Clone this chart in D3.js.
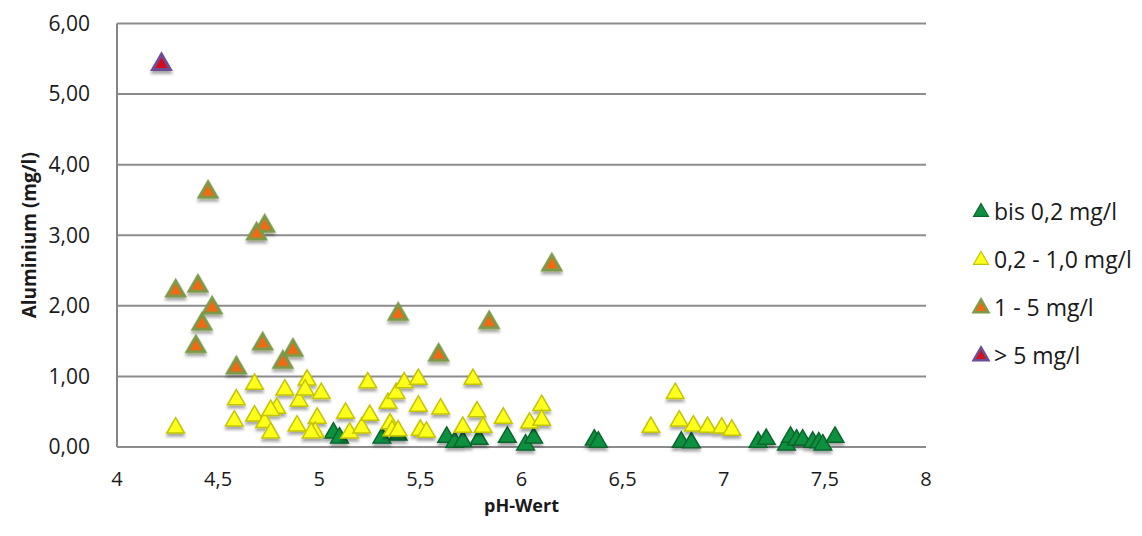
<!DOCTYPE html>
<html>
<head>
<meta charset="utf-8">
<script src="https://cdn.jsdelivr.net/npm/d3@7"></script>
<style>
  body { margin: 0; background: #fff; }
  svg { font-family: "Open Sans", "Liberation Sans", sans-serif; }
</style>
</head>
<body>
<div id="chart"></div>
<script>
// series: [pH, Aluminium mg/l]
var seriesNames = ["bis 0,2 mg/l", "0,2 - 1,0 mg/l", "1 - 5 mg/l", "> 5 mg/l"];

var greenPts = [
  [5.07, 0.20], [5.10, 0.13], [5.31, 0.13], [5.39, 0.17], [5.63, 0.14],
  [5.67, 0.07], [5.71, 0.08], [5.79, 0.11], [5.93, 0.14], [6.02, 0.03],
  [6.06, 0.13], [6.36, 0.10], [6.38, 0.07], [6.79, 0.07], [6.84, 0.06],
  [7.17, 0.07], [7.21, 0.11], [7.31, 0.03], [7.33, 0.14], [7.36, 0.10],
  [7.39, 0.10], [7.44, 0.07], [7.47, 0.06], [7.49, 0.03], [7.55, 0.14]
];

var yellowPts = [
  [4.29, 0.27], [4.59, 0.67], [4.58, 0.37], [4.68, 0.89], [4.68, 0.44],
  [4.73, 0.35], [4.76, 0.20], [4.79, 0.55], [4.76, 0.52], [4.83, 0.81],
  [4.90, 0.65], [4.89, 0.30], [4.94, 0.95], [4.93, 0.81], [5.01, 0.76],
  [4.99, 0.41], [4.98, 0.21], [4.96, 0.20], [5.13, 0.48], [5.15, 0.20],
  [5.21, 0.27], [5.25, 0.45], [5.24, 0.91], [5.34, 0.62], [5.35, 0.33],
  [5.38, 0.76], [5.42, 0.91], [5.49, 0.96], [5.76, 0.96], [5.36, 0.23],
  [5.39, 0.23], [5.49, 0.58], [5.60, 0.54], [5.50, 0.24], [5.53, 0.21],
  [5.71, 0.28], [5.78, 0.50], [5.81, 0.28], [5.91, 0.41], [6.04, 0.34],
  [6.10, 0.59], [6.10, 0.38], [6.64, 0.28], [6.76, 0.76], [6.78, 0.37],
  [6.85, 0.30], [6.92, 0.28], [6.99, 0.27], [7.04, 0.24]
];

var orangePts = [
  [4.45, 3.61], [4.73, 3.13], [4.69, 3.02], [4.29, 2.21], [4.40, 2.28],
  [4.47, 1.97], [4.42, 1.74], [4.39, 1.42], [4.72, 1.46], [4.82, 1.20],
  [4.87, 1.37], [4.59, 1.12], [6.15, 2.58], [5.39, 1.88], [5.84, 1.76],
  [5.59, 1.30]
];

var purplePts = [
  [4.22, 5.42]
];

var xTicks = [4, 4.5, 5, 5.5, 6, 6.5, 7, 7.5, 8];
var yTicks = [0, 1, 2, 3, 4, 5, 6];

var styles = [
  { fill: "#0d9140", stroke: "#07652b", sw: 1.5 },
  { fill: "#ffff1e", stroke: "#c4c400", sw: 1.5 },
  { fill: "#f06a12", stroke: "#7c9a48", sw: 3 },
  { fill: "#d3111c", stroke: "#6c4e96", sw: 3 }
];
var allSeries = [greenPts, yellowPts, orangePts, purplePts];

var W = 1142, H = 536;
var margin = { top: 23.5, right: 216, bottom: 89, left: 117 };
var width = W - margin.left - margin.right,
    height = H - margin.top - margin.bottom;

var svg = d3.select("#chart").append("svg")
  .attr("width", W)
  .attr("height", H);

var defs = svg.append("defs");
var f = defs.append("filter").attr("id", "shadow")
  .attr("x", "-50%").attr("y", "-50%").attr("width", "200%").attr("height", "200%");
f.append("feDropShadow")
  .attr("dx", 0).attr("dy", 3).attr("stdDeviation", 1.8)
  .attr("flood-color", "#000").attr("flood-opacity", 0.35);

var x = d3.scaleLinear().domain([4, 8]).range([0, width]);
var y = d3.scaleLinear().domain([0, 6]).range([height, 0]);

var g = svg.append("g")
  .attr("transform", "translate(" + margin.left + "," + margin.top + ")");

// gridlines
g.append("g").selectAll("line")
  .data(yTicks)
  .enter().append("line")
  .attr("x1", 0).attr("x2", width)
  .attr("y1", function (d) { return y(d); })
  .attr("y2", function (d) { return y(d); })
  .attr("stroke", "#8c8c8c")
  .attr("stroke-width", 2);

// left axis line
g.append("line")
  .attr("x1", 0).attr("x2", 0)
  .attr("y1", 0).attr("y2", height)
  .attr("stroke", "#868686")
  .attr("stroke-width", 2);

// y tick labels
g.append("g").selectAll("text")
  .data(yTicks)
  .enter().append("text")
  .attr("x", -27)
  .attr("y", function (d) { return y(d); })
  .attr("dy", "0.35em")
  .attr("text-anchor", "end")
  .attr("font-size", 21)
  .attr("fill", "#1a1a1a")
  .text(function (d) { return d3.format(".2f")(d).replace(".", ","); });

// x tick labels
g.append("g").selectAll("text")
  .data(xTicks)
  .enter().append("text")
  .attr("x", function (d) { return x(d); })
  .attr("y", height + 38.5)
  .attr("text-anchor", "middle")
  .attr("font-size", 20)
  .attr("fill", "#1a1a1a")
  .text(function (d) { return String(d).replace(".", ","); });

// axis titles
svg.append("text")
  .attr("x", margin.left + x(6))
  .attr("y", 512)
  .attr("text-anchor", "middle")
  .attr("font-size", 18)
  .attr("font-weight", "bold")
  .attr("fill", "#1a1a1a")
  .text("pH-Wert");

svg.append("text")
  .attr("transform", "translate(36," + (margin.top + height / 2) + ") rotate(-90)")
  .attr("text-anchor", "middle")
  .attr("font-size", 19)
  .attr("font-weight", "bold")
  .attr("fill", "#1a1a1a")
  .text("Aluminium (mg/l)");

// markers
var tri = d3.symbol().type(d3.symbolTriangle).size(135);
var triLegend = d3.symbol().type(d3.symbolTriangle).size(95);

allSeries.forEach(function (pts, i) {
  var s = styles[i];
  g.append("g").attr("filter", "url(#shadow)")
    .selectAll("path")
    .data(pts)
    .enter().append("path")
    .attr("d", tri)
    .attr("transform", function (d) {
      return "translate(" + x(d[0]) + "," + y(d[1]) + ")";
    })
    .attr("fill", s.fill)
    .attr("stroke", s.stroke)
    .attr("stroke-width", s.sw)
    .attr("stroke-linejoin", "miter");
});

// legend
var legend = svg.append("g").attr("transform", "translate(981,212)");
var li = legend.selectAll("g")
  .data(seriesNames)
  .enter().append("g")
  .attr("transform", function (d, i) { return "translate(0," + (i * 48) + ")"; });

li.append("path")
  .attr("d", triLegend)
  .attr("fill", function (d, i) { return styles[i].fill; })
  .attr("stroke", function (d, i) { return styles[i].stroke; })
  .attr("stroke-width", function (d, i) { return i > 1 ? 2.5 : 1.2; });

li.append("text")
  .attr("x", 13)
  .attr("dy", "0.35em")
  .attr("font-size", 23)
  .attr("fill", "#1a1a1a")
  .text(function (d) { return d; });
</script>
</body>
</html>
